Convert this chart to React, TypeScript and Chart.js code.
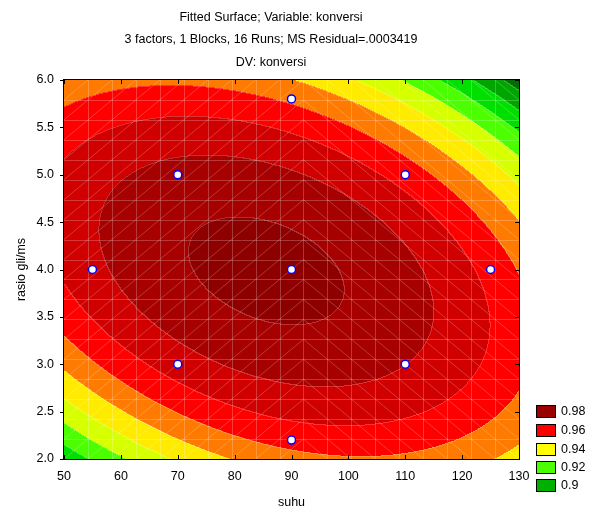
import React, { useEffect, useRef } from 'react';
import { Chart, registerables } from 'chart.js';

Chart.register(...registerables);

// ---------- text ----------
const titleLines = [
  'Fitted Surface; Variable: konversi',
  '3 factors, 1 Blocks, 16 Runs; MS Residual=.0003419',
  'DV: konversi',
];
const xTitle = 'suhu';
const yTitle = 'rasio gli/ms';

// ---------- axes ----------
const xTickValues = [50, 60, 70, 80, 90, 100, 110, 120, 130];
const xTickLabels = ['50', '60', '70', '80', '90', '100', '110', '120', '130'];
const yTickValues = [2.0, 2.5, 3.0, 3.5, 4.0, 4.5, 5.0, 5.5, 6.0];
const yTickLabels = ['2.0', '2.5', '3.0', '3.5', '4.0', '4.5', '5.0', '5.5', '6.0'];

// ---------- design runs (observed points) ----------
const runSuhu = [90, 55, 125, 90, 90, 70, 70, 110, 110];
const runRasio = [4.0, 4.0, 4.0, 2.2, 5.8, 3.0, 5.0, 3.0, 5.0];

// ---------- fitted quadratic surface (coded units) ----------
// u = (suhu - 90) / 10 ,  v = (rasio - 4) / 0.5
const codeCenter = [90, 4];
const codeStep = [10, 0.5];
// terms: const, u, v, u^2, v^2, u*v
const modelCoefs = [0.99241, -0.001544, -0.000744, -0.001683, -0.002439, -0.001434];

// ---------- contour levels & colours ----------
const contourLevels = [0.90, 0.91, 0.92, 0.93, 0.94, 0.95, 0.96, 0.97, 0.98, 0.99];
const bandColors = [
  '#006E00', '#00A600', '#00E000', '#4CFF00', '#D6FF00', '#FFEB00',
  '#FF7A00', '#FF0000', '#D00000', '#A60000', '#8E0000',
];
const legendLabels = ['0.98', '0.96', '0.94', '0.92', '0.9'];
const legendColors = ['#990000', '#FF0000', '#FFFF00', '#4CFF00', '#00B000'];

const FONT = '"Liberation Sans", Arial, sans-serif';
const FS = 12.5;

function fitted(x: number, y: number): number {
  const u = (x - codeCenter[0]) / codeStep[0];
  const v = (y - codeCenter[1]) / codeStep[1];
  const [b0, b1, b2, b11, b22, b12] = modelCoefs;
  return b0 + b1 * u + b2 * v + b11 * u * u + b22 * v * v + b12 * u * v;
}

function hexToRgb(h: string): number[] {
  const n = parseInt(h.slice(1), 16);
  return [(n >> 16) & 255, (n >> 8) & 255, n & 255];
}

const surfacePlugin = {
  id: 'surface',
  beforeDatasetsDraw(chart: any) {
    const { ctx, chartArea: a, scales } = chart;
    const xs = scales.x;
    const ys = scales.y;
    const L = Math.round(a.left);
    const T = Math.round(a.top);
    const W = Math.round(a.right) - L;
    const H = Math.round(a.bottom) - T;
    const img = ctx.createImageData(W, H);
    const rgb = bandColors.map(hexToRgb);
    const band = new Int16Array(W * H);
    for (let j = 0; j < H; j++) {
      const yv = ys.getValueForPixel(T + j + 0.5);
      for (let i = 0; i < W; i++) {
        const xv = xs.getValueForPixel(L + i + 0.5);
        const z = fitted(xv, yv);
        let b = 0;
        for (let k = 0; k < contourLevels.length; k++) if (z >= contourLevels[k]) b = k + 1;
        band[j * W + i] = b;
      }
    }
    for (let j = 0; j < H; j++) {
      for (let i = 0; i < W; i++) {
        const idx = j * W + i;
        const b = band[idx];
        const c = rgb[b];
        let edge = false;
        if (i > 0 && band[idx - 1] !== b) edge = true;
        if (j > 0 && band[idx - W] !== b) edge = true;
        const p = idx * 4;
        const f = edge ? 0.2 : 0;
        img.data[p] = c[0] + (255 - c[0]) * f;
        img.data[p + 1] = c[1] + (255 - c[1]) * f;
        img.data[p + 2] = c[2] + (255 - c[2]) * f;
        img.data[p + 3] = 255;
      }
    }
    ctx.putImageData(img, L, T);

    // triangulated mesh overlay
    const n = 19;
    const x0 = xs.min, x1 = xs.max, y0 = ys.min, y1 = ys.max;
    const gx = (k: number) => xs.getPixelForValue(x0 + ((x1 - x0) * k) / n);
    const gy = (k: number) => ys.getPixelForValue(y0 + ((y1 - y0) * k) / n);
    ctx.save();
    ctx.beginPath();
    ctx.rect(a.left, a.top, a.right - a.left, a.bottom - a.top);
    ctx.clip();
    ctx.strokeStyle = 'rgba(255,255,255,0.22)';
    ctx.lineWidth = 1;
    ctx.beginPath();
    for (let k = 1; k < n; k++) {
      const px = Math.round(gx(k)) + 0.5;
      ctx.moveTo(px, a.top);
      ctx.lineTo(px, a.bottom);
      const py = Math.round(gy(k)) + 0.5;
      ctx.moveTo(a.left, py);
      ctx.lineTo(a.right, py);
    }
    for (let i = 0; i < n; i++) {
      for (let j = 0; j < n; j++) {
        if (i < 10) {
          ctx.moveTo(gx(i), gy(j));
          ctx.lineTo(gx(i + 1), gy(j + 1));
        } else {
          ctx.moveTo(gx(i), gy(j + 1));
          ctx.lineTo(gx(i + 1), gy(j));
        }
      }
    }
    ctx.stroke();
    ctx.restore();
  },
  afterDraw(chart: any) {
    const { ctx, chartArea: a, scales } = chart;
    const xs = scales.x;
    const ys = scales.y;
    ctx.save();
    // frame
    ctx.strokeStyle = '#000';
    ctx.lineWidth = 1;
    ctx.strokeRect(Math.round(a.left) - 0.5, Math.round(a.top) - 0.5, Math.round(a.right - a.left) + 1, Math.round(a.bottom - a.top) + 1);
    // tick marks
    ctx.beginPath();
    xTickValues.forEach((v) => {
      const px = Math.round(xs.getPixelForValue(v)) + 0.5;
      ctx.moveTo(px, a.bottom);
      ctx.lineTo(px, a.bottom - 4);
      ctx.moveTo(px, a.top);
      ctx.lineTo(px, a.top + 4);
    });
    yTickValues.forEach((v) => {
      const py = Math.round(ys.getPixelForValue(v)) + 0.5;
      ctx.moveTo(a.left - 4, py);
      ctx.lineTo(a.left, py);
      ctx.moveTo(a.right, py);
      ctx.lineTo(a.right - 4, py);
    });
    ctx.stroke();
    // legend
    const legendY = [411, 430, 449, 467, 485];
    ctx.font = FS + 'px ' + FONT;
    ctx.textBaseline = 'middle';
    ctx.textAlign = 'left';
    legendLabels.forEach((lab, i) => {
      const yc = legendY[i];
      ctx.fillStyle = legendColors[i];
      ctx.fillRect(536, yc - 6, 20, 13);
      ctx.strokeStyle = '#000';
      ctx.strokeRect(536.5, yc - 5.5, 19, 12);
      ctx.fillStyle = '#000';
      ctx.fillText(lab, 561, yc + 0.5);
    });
    ctx.restore();
  },
};

export default function App() {
  const ref = useRef<HTMLCanvasElement | null>(null);
  useEffect(() => {
    if (!ref.current) return;
    const chart = new Chart(ref.current, {
      type: 'scatter',
      data: {
        datasets: [
          {
            data: runSuhu.map((x, i) => ({ x, y: runRasio[i] })),
            pointRadius: 4,
            pointBorderWidth: 1.5,
            borderColor: '#0000FF',
            backgroundColor: '#FFFFFF',
            pointHoverRadius: 4,
            clip: false as any,
          },
        ],
      },
      options: {
        responsive: false,
        animation: false,
        devicePixelRatio: 1,
        layout: { padding: { left: 23, right: 75, top: 0, bottom: 0 } },
        plugins: {
          legend: { display: false },
          tooltip: { enabled: false },
          title: {
            display: true,
            text: titleLines,
            color: '#000',
            font: { family: FONT, size: FS, weight: 'normal', lineHeight: 1.8 },
            padding: { top: 6, bottom: 6.5 },
          },
        },
        scales: {
          x: {
            type: 'linear',
            min: 50,
            max: 130,
            afterBuildTicks: (s: any) => {
              s.ticks = xTickValues.map((value) => ({ value }));
            },
            afterFit: (s: any) => {
              s.height = 51;
            },
            grid: { display: false, drawTicks: false },
            border: { display: false },
            ticks: {
              padding: 10.5,
              color: '#000',
              font: { family: FONT, size: FS },
              maxRotation: 0,
              callback: (_v: any, i: number) => xTickLabels[i],
            },
            title: {
              display: true,
              text: xTitle,
              color: '#000',
              font: { family: FONT, size: FS },
              padding: { top: 0, bottom: 0 },
            },
          },
          y: {
            type: 'linear',
            min: 2,
            max: 6,
            afterBuildTicks: (s: any) => {
              s.ticks = yTickValues.map((value) => ({ value }));
            },
            afterFit: (s: any) => {
              s.width = 41;
            },
            grid: { display: false, drawTicks: false },
            border: { display: false },
            ticks: {
              padding: 10,
              color: '#000',
              font: { family: FONT, size: FS },
              callback: (_v: any, i: number) => yTickLabels[i],
            },
            title: {
              display: true,
              text: yTitle,
              color: '#000',
              font: { family: FONT, size: FS },
              padding: { top: -8.5, bottom: 0 },
            },
          },
        },
      },
      plugins: [surfacePlugin],
    });
    return () => chart.destroy();
  }, []);
  return (
    <div style={{ position: 'fixed', left: 0, top: 0, width: 594, height: 510, background: '#fff' }}>
      <canvas ref={ref} width={594} height={510} style={{ display: 'block' }} />
    </div>
  );
}
